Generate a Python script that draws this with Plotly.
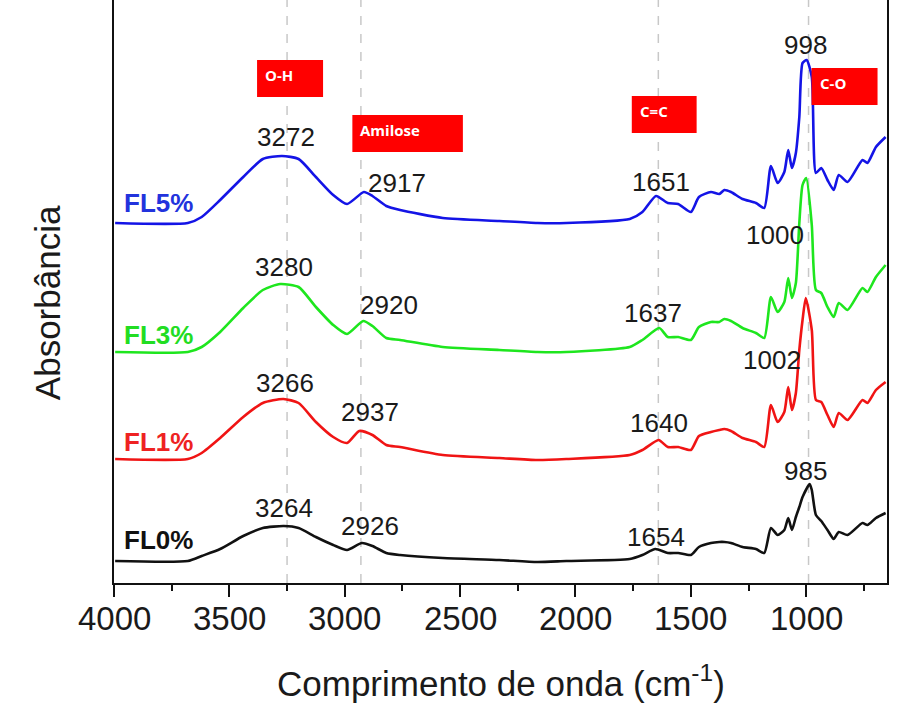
import plotly.graph_objects as go

# Wavenumber grid (cm^-1) shared by the four spectra; the band maxima are set per sample below
wavenumber = [3995, 3680, 3620, 3540, 3440, 3355, 3272, 3200, 3125, 3050,
              2990, 2925, 2880, 2820, 2760, 2575, 2330, 2165, 2040, 1765,
              1710, 1645, 1600, 1555, 1500, 1465, 1413, 1377, 1355, 1326,
              1276, 1218, 1182, 1153, 1124, 1095, 1078, 1062, 1045, 1030,
              1016, 996, 976, 958, 935, 908, 881, 859, 821, 756,
              735, 698, 656]
peak_index = [6, 11, 21, 41]

# Band maxima labelled on each spectrum (O-H, amilose C-H, C=C, C-O)
peaks_fl0 = [3264, 2926, 1654, 985]
peaks_fl1 = [3266, 2937, 1640, 1002]
peaks_fl3 = [3280, 2920, 1637, 1000]
peaks_fl5 = [3272, 2917, 1651, 998]

# Stacked absorbance (a.u., vertically offset)
abs_fl0 = [0.22, 0.22, 0.27, 0.34, 0.47, 0.55, 0.57, 0.55, 0.46, 0.38,
           0.33, 0.40, 0.37, 0.30, 0.28, 0.25, 0.23, 0.21, 0.22, 0.24,
           0.28, 0.34, 0.30, 0.30, 0.28, 0.36, 0.40, 0.41, 0.41, 0.40,
           0.36, 0.34, 0.30, 0.55, 0.48, 0.53, 0.65, 0.53, 0.66, 0.76,
           0.86, 0.99, 0.93, 0.68, 0.62, 0.53, 0.44, 0.51, 0.48, 0.60,
           0.58, 0.65, 0.70]
abs_fl1 = [1.24, 1.24, 1.30, 1.45, 1.66, 1.80, 1.84, 1.80, 1.61, 1.46,
           1.40, 1.52, 1.48, 1.38, 1.36, 1.28, 1.25, 1.23, 1.24, 1.28,
           1.33, 1.43, 1.36, 1.36, 1.33, 1.47, 1.51, 1.53, 1.54, 1.52,
           1.45, 1.41, 1.36, 1.78, 1.61, 1.71, 1.96, 1.73, 1.90, 2.33,
           2.63, 2.85, 2.53, 1.83, 1.81, 1.68, 1.56, 1.70, 1.63, 1.83,
           1.80, 1.93, 2.01]
abs_fl3 = [2.31, 2.31, 2.36, 2.51, 2.75, 2.93, 2.99, 2.96, 2.76, 2.58,
           2.49, 2.62, 2.57, 2.45, 2.43, 2.36, 2.33, 2.31, 2.31, 2.36,
           2.43, 2.55, 2.46, 2.46, 2.43, 2.56, 2.61, 2.61, 2.64, 2.62,
           2.55, 2.50, 2.45, 2.86, 2.71, 2.81, 3.05, 2.85, 3.00, 3.60,
           3.98, 4.05, 3.58, 2.93, 2.90, 2.76, 2.66, 2.80, 2.73, 2.95,
           2.91, 3.06, 3.18]
abs_fl5 = [3.60, 3.60, 3.66, 3.83, 4.06, 4.24, 4.27, 4.24, 4.06, 3.88,
           3.79, 3.91, 3.87, 3.77, 3.73, 3.65, 3.62, 3.60, 3.60, 3.64,
           3.71, 3.87, 3.80, 3.79, 3.71, 3.86, 3.91, 3.89, 3.93, 3.91,
           3.84, 3.80, 3.75, 4.17, 4.00, 4.11, 4.33, 4.15, 4.30, 4.66,
           5.20, 5.23, 5.06, 4.10, 4.15, 4.03, 3.93, 4.08, 4.01, 4.23,
           4.20, 4.36, 4.46]

samples = ["FL0%", "FL1%", "FL3%", "FL5%"]
colors = ["#111111", "#f01414", "#1ee61e", "#1414e6"]
label_colors = ["#111111", "#ee2222", "#22dd22", "#2233dd"]

# x-axis ticks
tick_values = [4000, 3500, 3000, 2500, 2000, 1500, 1000]
tick_labels = ["4000", "3500", "3000", "2500", "2000", "1500", "1000"]

# Band assignments shown as boxed tags
band_tags = ["O-H", "Amilose", "C=C", "C-O"]
guide_lines = [3250, 2930, 1641, 990]

FONT = "Liberation Sans, Arial, sans-serif"

fig = go.Figure()

series = [(abs_fl0, peaks_fl0), (abs_fl1, peaks_fl1), (abs_fl3, peaks_fl3), (abs_fl5, peaks_fl5)]
for (ys, pk), name, col in zip(series, samples, colors):
    xs = list(wavenumber)
    for i, p in zip(peak_index, pk):
        xs[i] = p
    fig.add_trace(go.Scatter(x=xs, y=ys, mode="lines", name=name,
                             line=dict(color=col, width=2.6, shape="spline", smoothing=0.6),
                             showlegend=False))

# dashed guides at the main bands
for g in guide_lines:
    fig.add_shape(type="line", xref="x", yref="paper", x0=g, x1=g, y0=0, y1=1,
                  line=dict(color="#c8c8c8", width=1.5, dash="dash"), layer="below")

# peak labels: anchor positions per sample
label_pos = {
    0: [(3264, 0.75), (2892, 0.57), (1649, 0.46), (1004, 1.12)],
    1: [(3260, 2.00), (2892, 1.71), (1636, 1.60), (1147, 2.23)],
    2: [(3264, 3.16), (2810, 2.78), (1662, 2.70), (1134, 3.48)],
    3: [(3255, 4.46), (2775, 4.00), (1628, 4.01), (1004, 5.38)],
}
for k, (ys, pk) in enumerate(series):
    for p, (lx, ly) in zip(pk, label_pos[k]):
        fig.add_annotation(x=lx, y=ly, text=str(p), showarrow=False,
                           font=dict(family=FONT, size=26, color="#1a1a1a"),
                           xanchor="center", yanchor="middle")

# sample names at the left of each spectrum
name_y = [0.43, 1.41, 2.48, 3.80]
for name, ny, col in zip(samples, name_y, label_colors):
    fig.add_annotation(x=3965, y=ny, text=f"<b>{name}</b>", showarrow=False,
                       font=dict(family=FONT, size=26, color=col),
                       xanchor="left", yanchor="middle")

# red band tags: box extents (x0, x1, y0, y1)
tag_boxes = [(3380, 3094, 4.86, 5.23), (2967, 2488, 4.31, 4.68),
             (1756, 1475, 4.50, 4.87), (977, 691, 4.78, 5.15)]
for tag, (x0, x1, y0, y1) in zip(band_tags, tag_boxes):
    fig.add_shape(type="rect", xref="x", yref="y", x0=x0, x1=x1, y0=y0, y1=y1,
                  fillcolor="#ff0000", line=dict(width=0), layer="above")
    fig.add_annotation(x=x0, y=y1, text=f"<b>{tag}</b>", showarrow=False,
                       xanchor="left", yanchor="top", xshift=6, yshift=-3,
                       font=dict(family="Open Sans, sans-serif", size=15, color="white"))

# tick labels placed just under the axis
for tv, tl in zip(tick_values, tick_labels):
    fig.add_annotation(x=tv, xref="x", yref="paper", y=0, yshift=-15, text=tl,
                       showarrow=False, xanchor="center", yanchor="top",
                       font=dict(family=FONT, size=33, color="#1a1a1a"))

# axis titles
fig.add_annotation(xref="paper", yref="paper", x=0.5, y=-0.168,
                   text="Comprimento de onda (cm<sup>-1</sup>)", showarrow=False,
                   font=dict(family=FONT, size=35, color="#1a1a1a"),
                   xanchor="center", yanchor="middle")
fig.add_annotation(xref="paper", yref="paper", x=0, y=0.48, xshift=-67,
                   text="Absorbância", textangle=-90, showarrow=False,
                   font=dict(family=FONT, size=35, color="#1a1a1a"),
                   xanchor="center", yanchor="middle")

fig.update_layout(
    width=902, height=704,
    margin=dict(l=114, r=15, t=0, b=121),
    paper_bgcolor="white", plot_bgcolor="white",
    xaxis=dict(range=[4000, 650], showgrid=False, zeroline=False,
               showline=True, linecolor="#111111", linewidth=2,
               ticks="outside", ticklen=12, tickwidth=2, tickcolor="#111111",
               tickvals=tick_values, showticklabels=False,
               minor=dict(ticks="outside", ticklen=6, tickwidth=2,
                          tickcolor="#111111", dtick=250, tick0=4000)),
    yaxis=dict(range=[0, 5.83], showgrid=False, zeroline=False,
               showline=True, mirror=True, linecolor="#111111", linewidth=2,
               showticklabels=False, ticks=""),
)

fig.write_html("out.html")
